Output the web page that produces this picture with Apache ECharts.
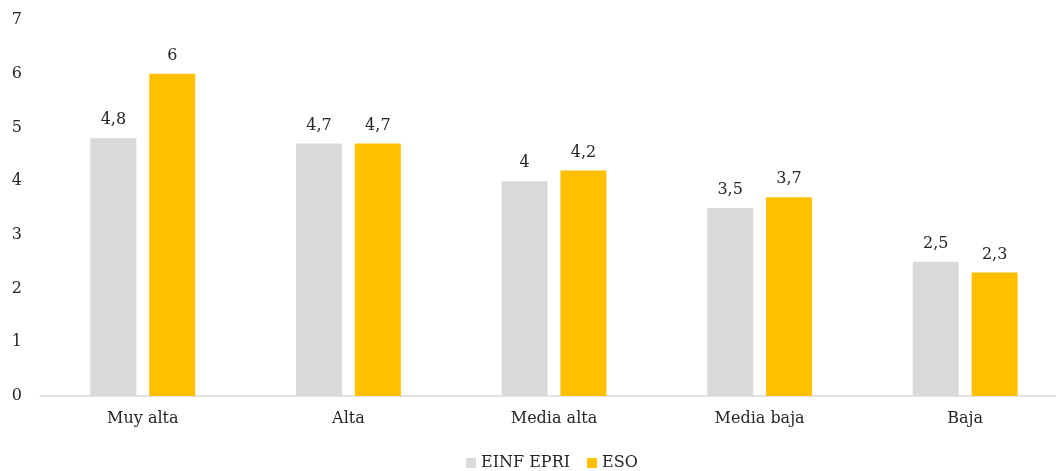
<!DOCTYPE html>
<html>
<head>
<meta charset="utf-8">
<script src="https://cdn.jsdelivr.net/npm/echarts@6/dist/echarts.min.js"></script>
<style>
  html, body { margin: 0; padding: 0; background: #ffffff; }
  #chart { width: 1056px; height: 471px; }
</style>
</head>
<body>
<div id="chart"></div>
<script>
const categories = ['Muy alta', 'Alta', 'Media alta', 'Media baja', 'Baja'];
const einfEpri = [4.8, 4.7, 4.0, 3.5, 2.5];
const eso = [6.0, 4.7, 4.2, 3.7, 2.3];
const yTicks = [0, 1, 2, 3, 4, 5, 6, 7];

const FONT = 'DejaVu Serif';
const TEXT = '#262626';
const SIZE = 16;
const fmt = v => String(v).replace('.', ',');

const chart = echarts.init(document.getElementById('chart'));
chart.setOption({
  animation: false,
  textStyle: { fontFamily: FONT, color: TEXT },
  grid: { left: 40, top: 20, width: 1028, bottom: 75, containLabel: false, outerBoundsMode: 'none' },
  legend: {
    bottom: -5,
    left: 461,
    itemWidth: 10,
    itemHeight: 10,
    itemGap: 17,
    icon: 'rect',
    textStyle: { fontFamily: FONT, fontSize: SIZE, color: TEXT },
    data: ['EINF EPRI', 'ESO']
  },
  xAxis: {
    type: 'category',
    data: categories,
    axisLine: { lineStyle: { color: '#d9d9d9', width: 1.5 } },
    axisTick: { show: false },
    axisLabel: { fontFamily: FONT, fontSize: SIZE, color: TEXT, margin: 15 }
  },
  yAxis: {
    type: 'value',
    min: yTicks[0],
    max: yTicks[yTicks.length - 1],
    interval: 1,
    splitLine: { show: false },
    axisLine: { show: false },
    axisTick: { show: false },
    axisLabel: { fontFamily: FONT, fontSize: SIZE, color: TEXT, margin: 18 }
  },
  series: [
    {
      name: 'EINF EPRI',
      type: 'bar',
      data: einfEpri,
      barWidth: 46,
      barGap: '28%',
      itemStyle: { color: '#d9d9d9' },
      label: { show: true, position: 'top', distance: 10, formatter: p => fmt(p.value), fontFamily: FONT, fontSize: SIZE, color: TEXT }
    },
    {
      name: 'ESO',
      type: 'bar',
      data: eso,
      barWidth: 46,
      barGap: '28%',
      itemStyle: { color: '#ffc000' },
      label: { show: true, position: 'top', distance: 10, formatter: p => fmt(p.value), fontFamily: FONT, fontSize: SIZE, color: TEXT }
    }
  ]
});
</script>
</body>
</html>
